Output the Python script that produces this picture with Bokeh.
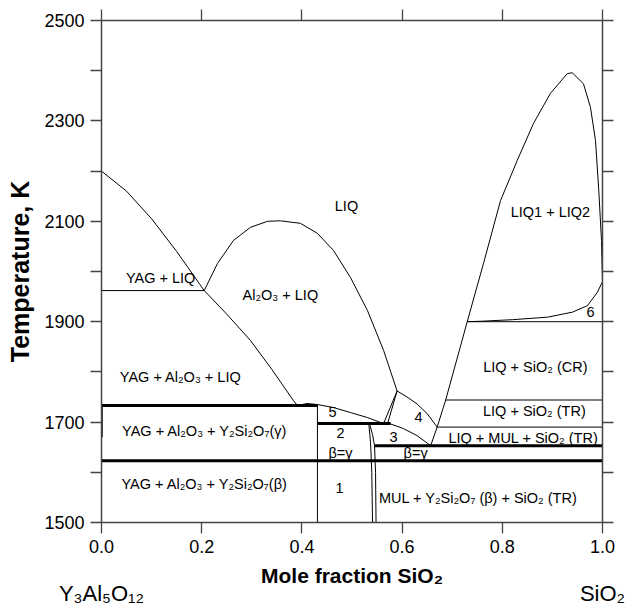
from bokeh.plotting import figure
from bokeh.models import Range1d, LinearAxis, FixedTicker, PrintfTickFormatter, ColumnDataSource
from bokeh.core.properties import value
from bokeh.embed import file_html
from bokeh.resources import INLINE

# ---------------- data (mole fraction SiO2, temperature K) ----------------
yag_liq_x = [0.0, 0.05, 0.10, 0.15, 0.205]
yag_liq_t = [2200, 2160, 2105, 2040, 1962]

yag_al_x = [0.205, 0.25, 0.297, 0.34, 0.383, 0.391]
yag_al_t = [1962, 1915, 1863, 1805, 1743, 1733]

al_liq_x = [0.205, 0.2315, 0.2635, 0.2974, 0.3313, 0.357, 0.397, 0.431, 0.463, 0.497, 0.531, 0.563, 0.590]
al_liq_t = [1962, 2016, 2062, 2088, 2100, 2101, 2096, 2076, 2042, 1988, 1922, 1843, 1762]

r5_x = [0.391, 0.41, 0.431, 0.463, 0.497, 0.531, 0.563]
r5_t = [1733, 1737, 1735, 1729, 1719, 1709, 1697]

wedge1_x = [0.563, 0.590]
wedge1_t = [1697, 1762]
wedge2_x = [0.571, 0.590]
wedge2_t = [1697, 1762]

r4_x = [0.590, 0.610, 0.630, 0.650, 0.670]
r4_t = [1762, 1750, 1736, 1717, 1690]

r3_x = [0.575, 0.603, 0.630, 0.657]
r3_t = [1697, 1687, 1673, 1653]

sio2_liq_x = [0.657, 0.670, 0.687, 0.730]
sio2_liq_t = [1653, 1690, 1744, 1900]

dome_x = [0.730, 0.763, 0.7964, 0.8297, 0.8623, 0.8962, 0.9295, 0.9395, 0.962, 0.976, 0.986, 0.9926, 0.998, 1.0]
dome_t = [1900, 2018, 2141, 2221, 2295, 2355, 2394, 2396, 2374, 2327, 2261, 2161, 2062, 1980]

six_x = [0.730, 0.76, 0.82, 0.89, 0.94, 0.97, 0.99, 1.0]
six_t = [1900, 1901, 1904, 1909, 1919, 1932, 1959, 1980]

vA_x = [0.5335, 0.537, 0.5395, 0.541]
vA_t = [1697, 1660, 1600, 1500]
vB_x = [0.535, 0.541, 0.545, 0.547, 0.548]
vB_t = [1697, 1675, 1653, 1600, 1500]

v43_x = [0.431, 0.431]
v43_t = [1735, 1500]

# thin horizontal isotherms: (x_start, x_end, T)
thin_h_x0 = [0.0, 0.730, 0.687, 0.670]
thin_h_x1 = [0.205, 1.0, 1.0, 1.0]
thin_h_t = [1962, 1900, 1744, 1690]

# thick invariant lines
thick_h_x0 = [0.0, 0.431, 0.545, 0.0]
thick_h_x1 = [0.431, 0.577, 1.0, 1.0]
thick_h_t = [1733, 1697, 1653, 1623]

left_v_t0 = [1733]
left_v_t1 = [1670]

# region labels
lab_text = ["LIQ", "YAG + LIQ", "Al\u2082O\u2083 + LIQ", "LIQ1 + LIQ2", "6",
            "LIQ + SiO\u2082 (CR)", "YAG + Al\u2082O\u2083 + LIQ", "LIQ + SiO\u2082 (TR)",
            "YAG + Al\u2082O\u2083 + Y\u2082Si\u2082O\u2087(\u03b3)", "5", "2", "\u03b2=\u03b3", "3", "4",
            "LIQ + MUL + SiO\u2082 (TR)", "\u03b2=\u03b3",
            "YAG + Al\u2082O\u2083 + Y\u2082Si\u2082O\u2087(\u03b2)", "1",
            "MUL + Y\u2082Si\u2082O\u2087 (\u03b2) + SiO\u2082 (TR)"]
lab_x = [0.489, 0.118, 0.357, 0.896, 0.976, 0.866, 0.158, 0.864, 0.206, 0.461, 0.477, 0.477,
         0.583, 0.633, 0.842, 0.627, 0.206, 0.475, 0.752]
lab_t = [2131, 1988, 1954, 2118, 1920, 1809, 1789, 1723, 1683, 1721, 1679, 1639, 1671, 1711,
         1669, 1639, 1576, 1568, 1548]

x_ticks = [0.0, 0.2, 0.4, 0.6, 0.8, 1.0]
y_major = [1500, 1700, 1900, 2100, 2300, 2500]
y_minor = [1600, 1800, 2000, 2200, 2400]

end_member_x = [0.0, 1.0]
end_member_names = ["Y\u2083Al\u2085O\u2081\u2082", "SiO\u2082"]

FONT = "Liberation Sans"
AXC = "#444444"

p = figure(width=631, height=608, output_backend="svg", toolbar_location=None,
           x_range=Range1d(0, 1), y_range=Range1d(1500, 2500),
           min_border_left=101, min_border_right=29, min_border_top=20, min_border_bottom=86,
           x_axis_label="Mole fraction SiO\u2082", y_axis_label="Temperature, K")
p.outline_line_color = None
p.grid.visible = False
p.background_fill_color = "white"
p.border_fill_color = "white"

thin = dict(line_color="black", line_width=1.0)
for xs, ts in [(yag_liq_x, yag_liq_t), (yag_al_x, yag_al_t), (al_liq_x, al_liq_t), (r5_x, r5_t),
               (wedge1_x, wedge1_t), (wedge2_x, wedge2_t), (r4_x, r4_t), (r3_x, r3_t),
               (sio2_liq_x, sio2_liq_t), (dome_x, dome_t), (six_x, six_t),
               (vA_x, vA_t), (vB_x, vB_t), (v43_x, v43_t)]:
    p.line(xs, ts, **thin)

p.segment(x0=thin_h_x0, y0=thin_h_t, x1=thin_h_x1, y1=thin_h_t, **thin)
p.segment(x0=thick_h_x0, y0=thick_h_t, x1=thick_h_x1, y1=thick_h_t, line_color="black", line_width=3)
p.segment(x0=[0.0], y0=left_v_t0, x1=[0.0], y1=left_v_t1, line_color="black", line_width=2.5)

src = ColumnDataSource(dict(x=lab_x, y=lab_t, text=lab_text))
p.text(x="x", y="y", text="text", source=src, text_align="center", text_baseline="middle",
       text_font=value(FONT), text_font_size=value("14.5px"), text_color="black")

# axes styling
def style_axis(ax, ticks, show_labels):
    ax.axis_line_color = AXC
    ax.axis_line_width = 1.5
    ax.major_tick_line_color = AXC
    ax.minor_tick_line_color = AXC
    ax.major_tick_line_width = 1.3
    ax.minor_tick_line_width = 1.3
    ax.major_tick_in = 0
    ax.major_tick_out = 11
    ax.minor_tick_in = 0
    ax.minor_tick_out = 11
    ax.major_label_text_font = FONT
    ax.major_label_text_color = "black"
    ax.major_label_text_font_size = "18px"
    if show_labels:
        ax.major_label_standoff = 6
    else:
        ax.major_label_overrides = {t: "" for t in ticks}
        ax.major_label_standoff = 0

p.xaxis.ticker = FixedTicker(ticks=x_ticks, minor_ticks=[])
p.xaxis.formatter = PrintfTickFormatter(format="%.1f")
p.yaxis.ticker = FixedTicker(ticks=y_major, minor_ticks=y_minor)
style_axis(p.xaxis[0], x_ticks, True)
style_axis(p.yaxis[0], y_major, True)
for ax in p.xaxis + p.yaxis:
    ax.axis_label_text_font = FONT
    ax.axis_label_text_font_style = "bold"
    ax.axis_label_text_color = "black"
p.xaxis.axis_label_text_font_size = "21px"
p.yaxis.axis_label_text_font_size = "25px"
p.xaxis.axis_label_standoff = 8
p.yaxis.axis_label_standoff = 7

top = LinearAxis(ticker=FixedTicker(ticks=x_ticks, minor_ticks=[]))
style_axis(top, x_ticks, False)
p.add_layout(top, "above")
right = LinearAxis(ticker=FixedTicker(ticks=y_major, minor_ticks=y_minor))
style_axis(right, y_major, False)
p.add_layout(right, "right")

# end-member names under the composition axis
ends = LinearAxis(ticker=FixedTicker(ticks=end_member_x, minor_ticks=[]),
                  major_label_overrides=dict(zip(end_member_x, end_member_names)))
ends.axis_line_color = None
ends.major_tick_line_color = None
ends.minor_tick_line_color = None
ends.major_tick_in = 0
ends.major_tick_out = 0
ends.minor_tick_in = 0
ends.minor_tick_out = 0
ends.major_label_standoff = -9
ends.major_label_text_font = FONT
ends.major_label_text_font_size = "22px"
ends.major_label_text_color = "black"
p.add_layout(ends, "below")

open("out.html", "w").write(file_html(p, INLINE))
